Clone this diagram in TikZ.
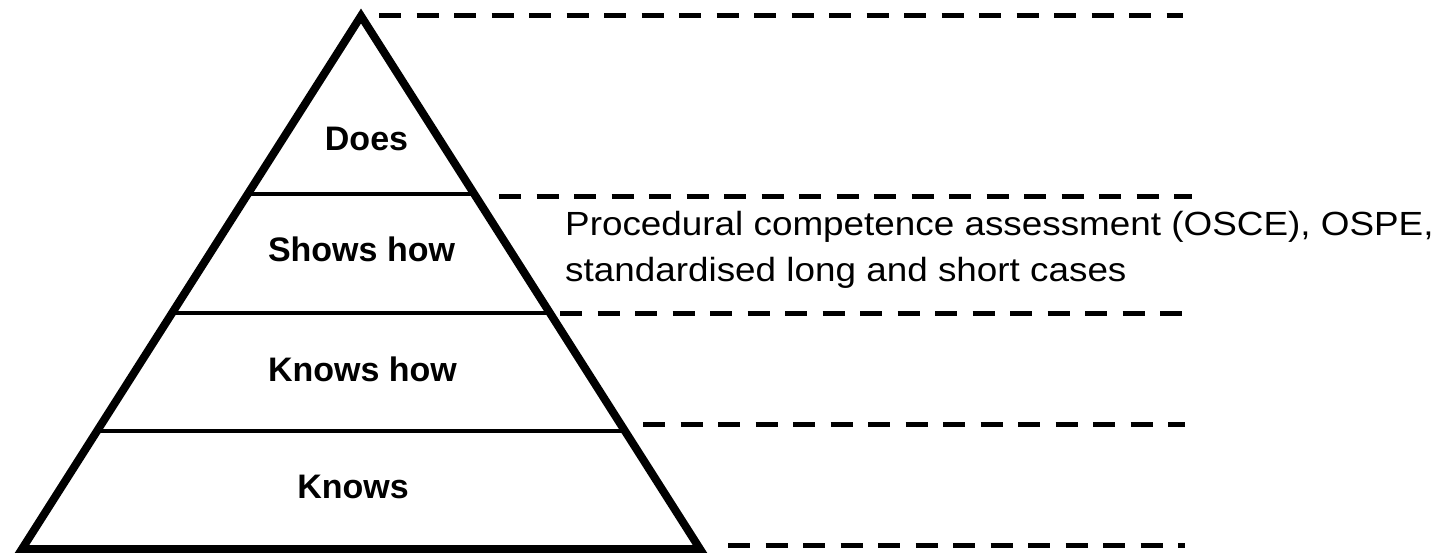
\documentclass[tikz,border=0pt]{standalone}
\usepackage{fontspec}
\setmainfont{Liberation Sans}
\begin{document}
\begin{tikzpicture}[x=1pt,y=-1pt,
  edge/.style={line width=8pt,line join=miter},
  tier/.style={line width=4pt},
  guide/.style={line width=5pt,dash pattern=on 22pt off 15.5pt},
  lbl/.style={anchor=base,inner sep=0pt,font=\fontsize{34}{40}\selectfont\bfseries},
  desc/.style={anchor=base west,inner sep=0pt,xscale=1.1,transform shape,font=\fontsize{33.5}{40}\selectfont}]
\useasboundingbox (0,0) rectangle (1456,553);
% pyramid
\coordinate (apex) at (361,16);
\coordinate (bl) at (22,549);
\coordinate (br) at (700,549);
\draw[edge] (bl) -- (apex) -- (br) -- cycle;
% tiers
\coordinate (t1l) at (247.8,194); \coordinate (t1r) at (474.2,194);
\coordinate (t2l) at (172.1,313); \coordinate (t2r) at (549.9,313);
\coordinate (t3l) at (97.1,431); \coordinate (t3r) at (624.9,431);
\draw[tier] (t1l) -- (t1r);
\draw[tier] (t2l) -- (t2r);
\draw[tier] (t3l) -- (t3r);
% dashed guides
\coordinate (g0a) at (379,16);  \coordinate (g0b) at (1183,16);
\coordinate (g1a) at (499,197); \coordinate (g1b) at (1192,197);
\coordinate (g2a) at (560,313); \coordinate (g2b) at (1185,313);
\coordinate (g3a) at (643,424); \coordinate (g3b) at (1185,424);
\coordinate (g4a) at (728,545); \coordinate (g4b) at (1185,545);
\draw[guide] (g0a) -- (g0b);
\draw[guide] (g1a) -- (g1b);
\draw[guide] (g2a) -- (g2b);
\draw[guide] (g3a) -- (g3b);
\draw[guide] (g4a) -- (g4b);
% labels
\node[lbl] (does) at (366.5,151) {Does};
\node[lbl] (shows) at (361.5,261.7) {Shows how};
\node[lbl] (knowshow) at (362.5,381.7) {Knows how};
\node[lbl] (knows) at (353,498) {Knows};
\node[desc] (d1) at (565,236) {Procedural competence assessment (OSCE), OSPE,};
\node[desc] (d2) at (565,281.7) {standardised long and short cases};
\end{tikzpicture}
\end{document}
